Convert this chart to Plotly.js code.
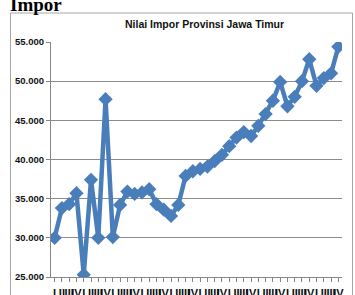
<!DOCTYPE html>
<html>
<head>
<meta charset="utf-8">
<script src="https://cdn.plot.ly/plotly-3.0.1.min.js"></script>
<style>
html,body{margin:0;padding:0;background:#fff;}
#chart{width:355px;height:295px;}
</style>
</head>
<body>
<div id="chart"></div>
<script>
// Data
var quarterLabels = ["I","II","III","IV"];
var nilaiImpor = [30000,33800,34300,35700,25300,37400,30000,47700,30100,34200,
                  35900,35600,35800,36200,34300,33600,32800,34200,37900,38500,
                  38800,39100,39800,40600,41700,42800,43500,43000,44300,45800,
                  47500,49900,46800,48000,50000,52800,49400,50400,51000,54400];
var xIdx = nilaiImpor.map(function(_, i){ return i; });
var xTickText = nilaiImpor.map(function(_, i){ return '<b>' + quarterLabels[i % 4] + '</b>'; });
var yTicks = [25000,30000,35000,40000,45000,50000,55000];
var yTickText = ["25.000","30.000","35.000","40.000","45.000","50.000","55.000"];

var L = 51, R = 342, T = 42, B = 277, W = 355, H = 295;
function px(x){ return (x - L) / (R - L); }
function py(y){ return (B - y) / (B - T); }

var trace = {
  x: xIdx, y: nilaiImpor, type: 'scatter', mode: 'lines+markers',
  line: {color: '#4A7EBB', width: 4.5},
  marker: {symbol: 'diamond', size: 11, color: '#4A7EBB'},
  hoverinfo: 'skip'
};

var layout = {
  width: W, height: H,
  margin: {l: L, r: W - R, t: T, b: H - B, pad: 0},
  paper_bgcolor: '#fff', plot_bgcolor: '#fff',
  showlegend: false,
  font: {family: 'Liberation Sans, Arial, sans-serif', color: '#000'},
  xaxis: {
    range: [-0.5, 39.5], tickmode: 'array', tickvals: xIdx, ticktext: xTickText,
    tickangle: 0, showgrid: false, zeroline: false,
    showline: true, linecolor: '#868686', linewidth: 1,
    ticks: 'outside', ticklen: 4, tickcolor: '#868686', ticklabelstandoff: 2,
    tickfont: {family: 'Liberation Sans, Arial, sans-serif', size: 11, color: '#111'},
    fixedrange: true
  },
  yaxis: {
    range: [25000, 55000], tickmode: 'array', tickvals: yTicks,
    ticktext: yTickText.map(function(t){ return '<b>' + t + '</b>'; }),
    showgrid: true, gridcolor: '#8C8C8C', gridwidth: 1, zeroline: false,
    showline: true, linecolor: '#868686', linewidth: 1,
    ticks: 'outside', ticklen: 4, tickcolor: '#868686',
    tickfont: {family: 'Liberation Sans, Arial, sans-serif', size: 9.5, color: '#111'},
    fixedrange: true
  },
  shapes: [{
    type: 'rect', xref: 'paper', yref: 'paper',
    x0: px(10.5), x1: px(352.5), y0: py(310), y1: py(13),
    line: {color: '#A6A6A6', width: 1}, fillcolor: 'rgba(0,0,0,0)', layer: 'below'
  }],
  annotations: [
    {text: '<b>Nilai Impor Provinsi Jawa Timur</b>', xref: 'paper', yref: 'paper',
     x: px(204), y: py(24), xanchor: 'center', yanchor: 'middle', showarrow: false,
     font: {family: 'Liberation Sans, Arial, sans-serif', size: 10.5, color: '#111'}},
    {text: '<b>Impor</b>', xref: 'paper', yref: 'paper',
     x: px(8), y: py(4), xanchor: 'left', yanchor: 'middle', showarrow: false,
     font: {family: 'Liberation Serif, Times New Roman, serif', size: 19, color: '#000'}}
  ]
};

Plotly.newPlot('chart', [trace], layout, {displayModeBar: false, staticPlot: true});
</script>
</body>
</html>
